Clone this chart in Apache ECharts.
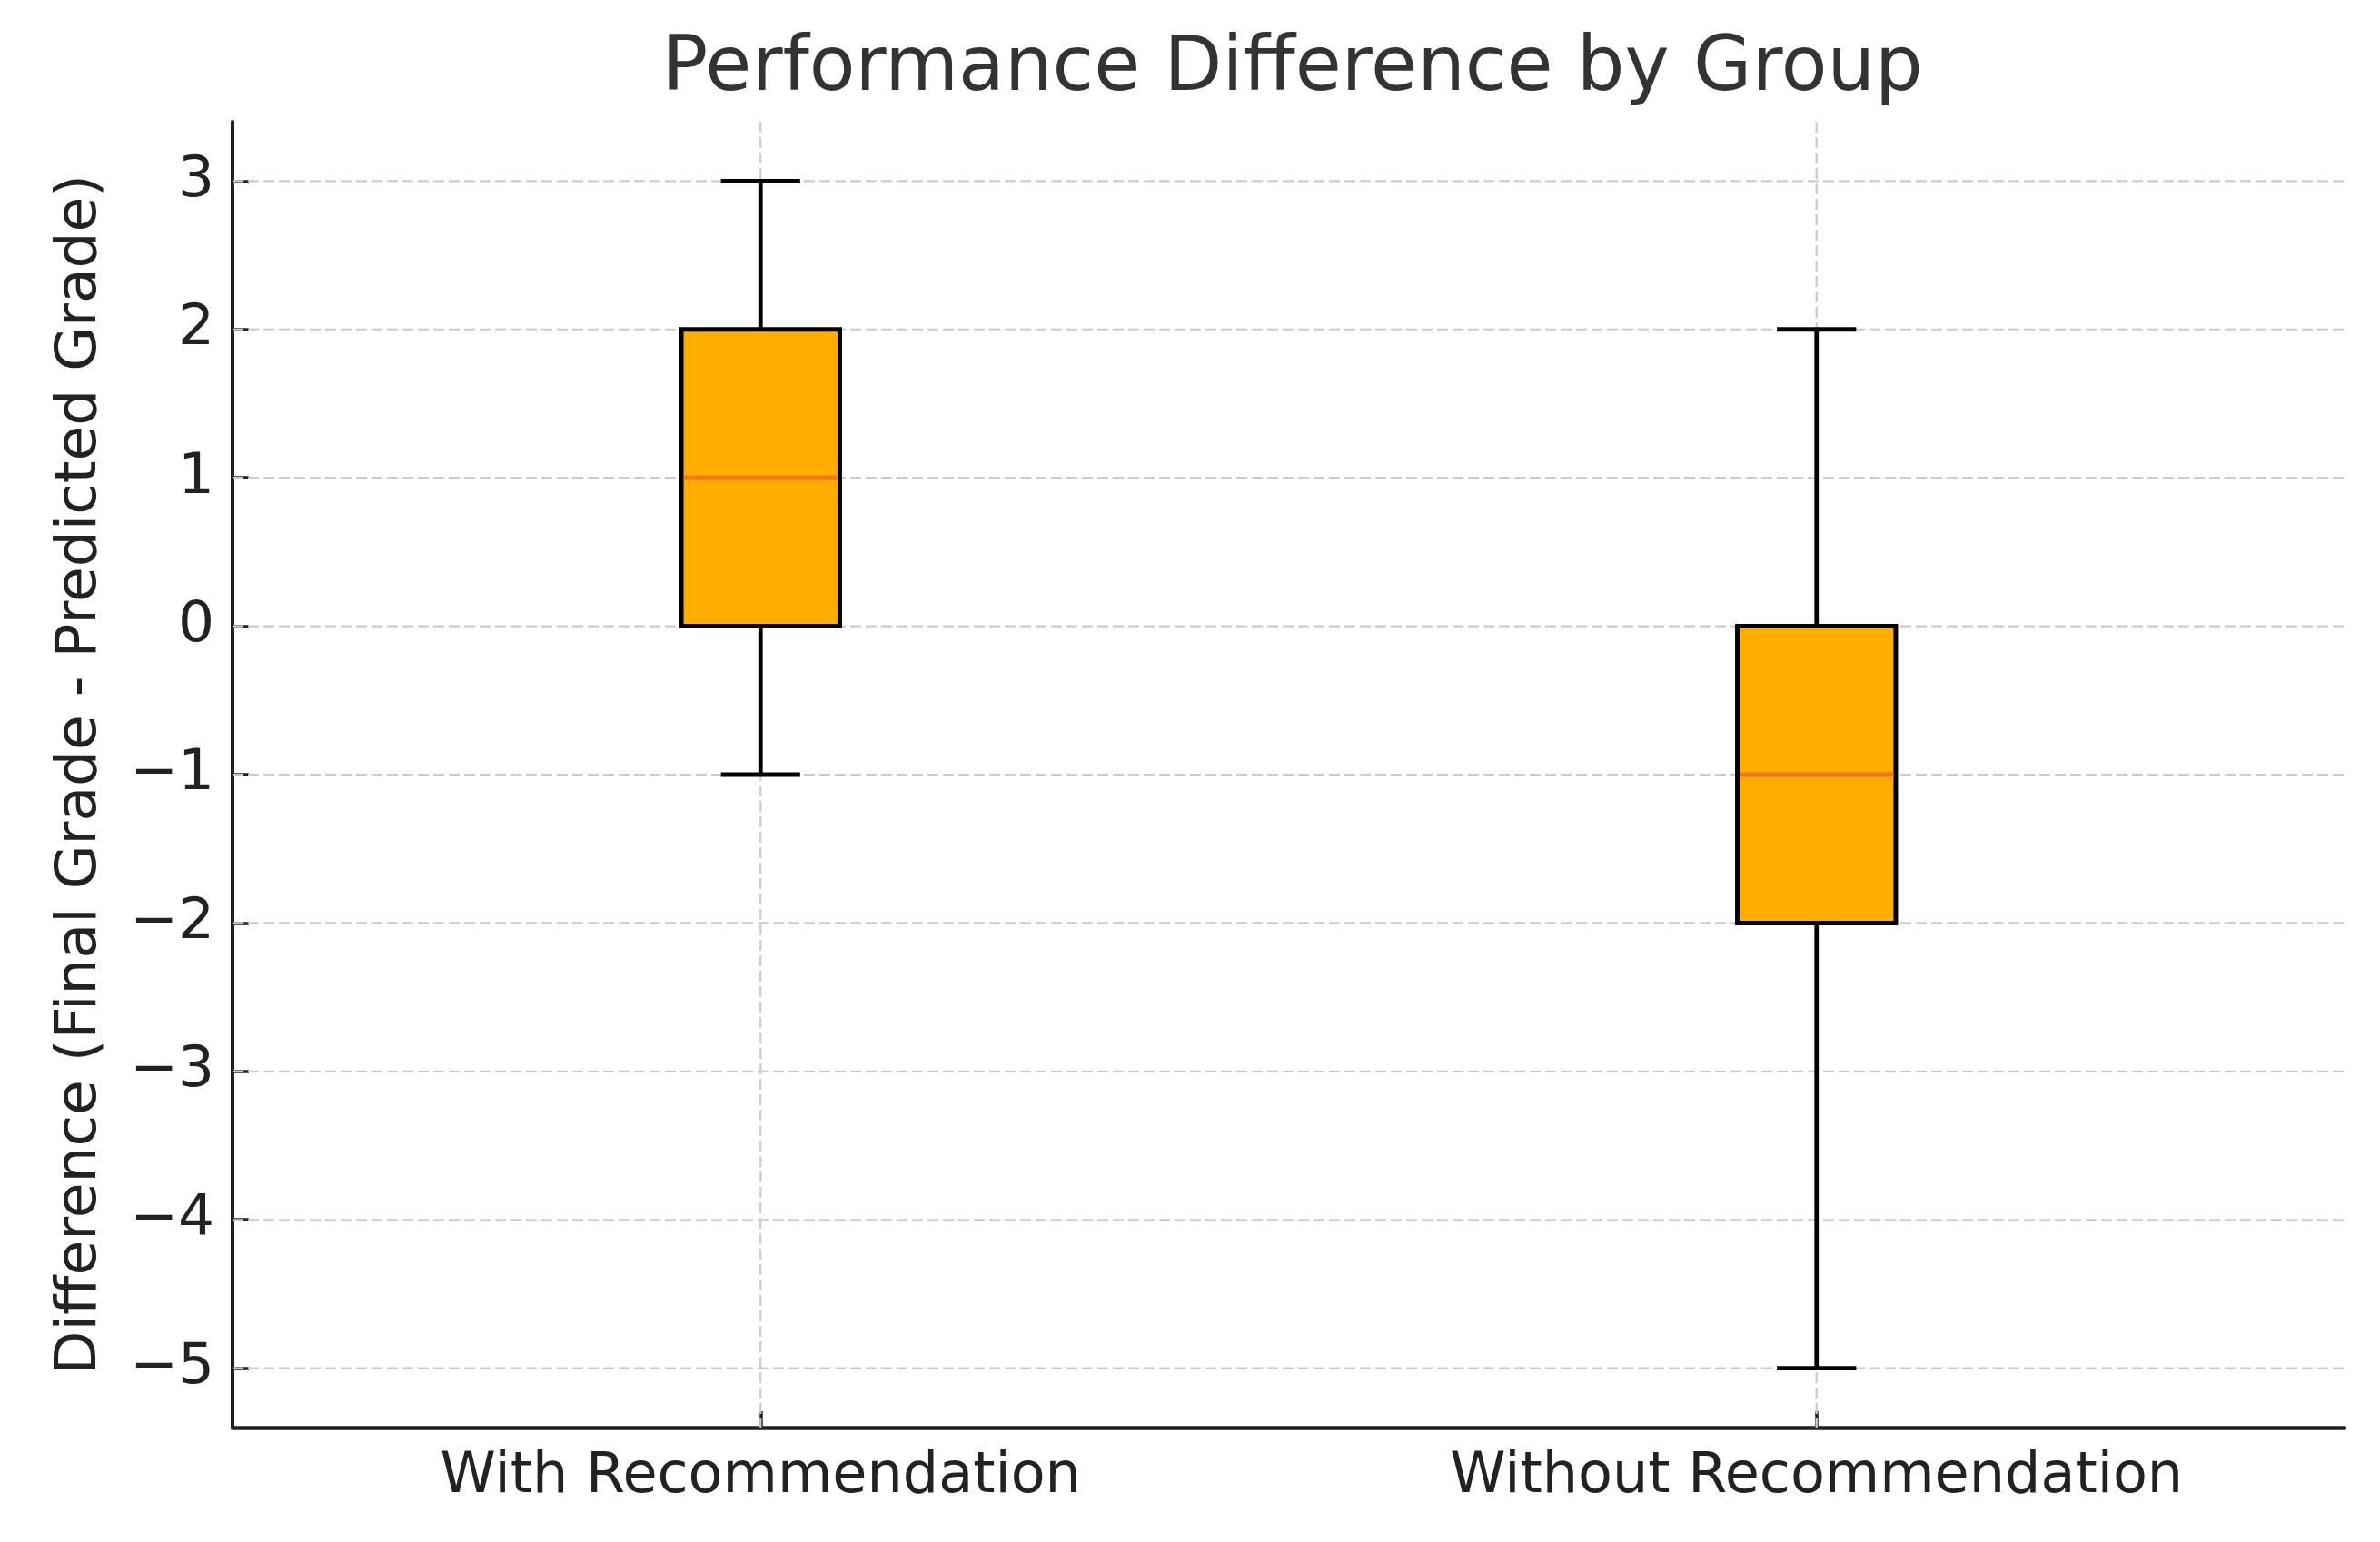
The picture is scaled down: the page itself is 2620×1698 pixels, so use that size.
<!DOCTYPE html>
<html>
<head>
<meta charset="utf-8">
<script src="https://cdn.jsdelivr.net/npm/echarts@6/dist/echarts.min.js"></script>
<style>
html,body{margin:0;padding:0;background:#fff;}
#chart{width:2620px;height:1698px;}
</style>
</head>
<body>
<div id="chart"></div>
<script>
// ---- data ----
const categories = ['With Recommendation', 'Without Recommendation'];
// [min, Q1, median, Q3, max]
const withRecommendation = [-1, 0, 1, 2, 3];
const withoutRecommendation = [-5, -2, -1, 0, 2];
const yTicks = [-5, -4, -3, -2, -1, 0, 1, 2, 3];
const yMin = -5.4;
const yMax = 3.4;
const titleText = 'Performance Difference by Group';
const yAxisName = 'Difference (Final Grade - Predicted Grade)';

const boxStats = [withRecommendation, withoutRecommendation];
const boxData = boxStats.map((s, i) => [i].concat(s));

const FONT = 'DejaVu Sans';
const chart = echarts.init(document.getElementById('chart'));

function renderBox(params, api) {
  const idx = api.value(0);
  const vmin = api.value(1), q1 = api.value(2), med = api.value(3), q3 = api.value(4), vmax = api.value(5);
  const cx = api.coord([idx, med])[0];
  const band = api.size([1, 0])[0];
  const boxW = band * 0.15;
  const capW = boxW / 2;
  const yMinP = api.coord([idx, vmin])[1];
  const yQ1 = api.coord([idx, q1])[1];
  const yMed = api.coord([idx, med])[1];
  const yQ3 = api.coord([idx, q3])[1];
  const yMaxP = api.coord([idx, vmax])[1];
  const black = {stroke: '#000000', lineWidth: 4.8};
  return {
    type: 'group',
    children: [
      {type: 'line', shape: {x1: cx, y1: yQ3, x2: cx, y2: yMaxP}, style: black},
      {type: 'line', shape: {x1: cx, y1: yQ1, x2: cx, y2: yMinP}, style: black},
      {type: 'line', shape: {x1: cx - capW / 2, y1: yMaxP, x2: cx + capW / 2, y2: yMaxP}, style: black},
      {type: 'line', shape: {x1: cx - capW / 2, y1: yMinP, x2: cx + capW / 2, y2: yMinP}, style: black},
      {type: 'rect', shape: {x: cx - boxW / 2, y: yQ3, width: boxW, height: yQ1 - yQ3},
       style: {fill: '#FFAE00', stroke: '#000000', lineWidth: 5}},
      {type: 'line', shape: {x1: cx - boxW / 2 + 2.5, y1: yMed, x2: cx + boxW / 2 - 2.5, y2: yMed},
       style: {stroke: '#F47421', lineWidth: 5}}
    ]
  };
}

function renderHGrid(params, api) {
  const cs = params.coordSys;
  const y = api.coord([0, api.value(0)])[1];
  return {type: 'line', shape: {x1: cs.x, y1: y, x2: cs.x + cs.width, y2: y},
    style: {stroke: '#cbcbcb', lineWidth: 2.2, lineDash: [12, 5]}};
}
function renderVGrid(params, api) {
  const cs = params.coordSys;
  const x = api.coord([api.value(0), 0])[0];
  return {type: 'line', shape: {x1: x, y1: cs.y, x2: x, y2: cs.y + cs.height},
    style: {stroke: '#cbcbcb', lineWidth: 2.2, lineDash: [12, 5]}};
}

chart.setOption({
  backgroundColor: '#ffffff',
  animation: false,
  title: {
    text: titleText,
    left: 1418, textAlign: 'center',
    top: 31,
    textStyle: {fontFamily: FONT, fontSize: 83, fontWeight: 'normal', color: '#333333'}
  },
  grid: {left: 256, right: 39, top: 134, bottom: 126, containLabel: false},
  xAxis: {
    type: 'category',
    data: categories,
    boundaryGap: true,
    axisLine: {onZero: false, lineStyle: {color: '#222222', width: 4.5}},
    axisTick: {show: true, inside: true, length: 18, alignWithLabel: true, lineStyle: {color: '#222222', width: 3.5}},
    axisLabel: {fontFamily: FONT, fontSize: 62, color: '#222222', margin: 24},
    splitLine: {show: false}
  },
  yAxis: {
    type: 'value',
    min: yMin, max: yMax,
    name: yAxisName,
    nameLocation: 'middle',
    nameGap: 136,
    nameTextStyle: {fontFamily: FONT, fontSize: 63, color: '#222222'},
    axisLine: {show: true, onZero: false, lineStyle: {color: '#222222', width: 4}},
    axisTick: {show: true, inside: true, length: 18, customValues: yTicks, lineStyle: {color: '#222222', width: 3.5}},
    axisLabel: {fontFamily: FONT, fontSize: 63, color: '#222222', margin: 20, customValues: yTicks,
      formatter: v => String(v).replace('-', '\u2212')},
    splitLine: {show: false}
  },
  series: [
    {type: 'custom', name: 'hgrid', renderItem: renderHGrid, data: yTicks.map(v => [v]),
     encode: {y: 0}, z: 1, silent: true, clip: false},
    {type: 'custom', name: 'vgrid', renderItem: renderVGrid, data: categories.map((c, i) => [i]),
     encode: {x: 0}, z: 1, silent: true, clip: false},
    {type: 'custom', name: 'box', renderItem: renderBox, data: boxData,
     encode: {x: 0, y: [1, 2, 3, 4, 5]}, z: 3, clip: false}
  ]
});
</script>
</body>
</html>
